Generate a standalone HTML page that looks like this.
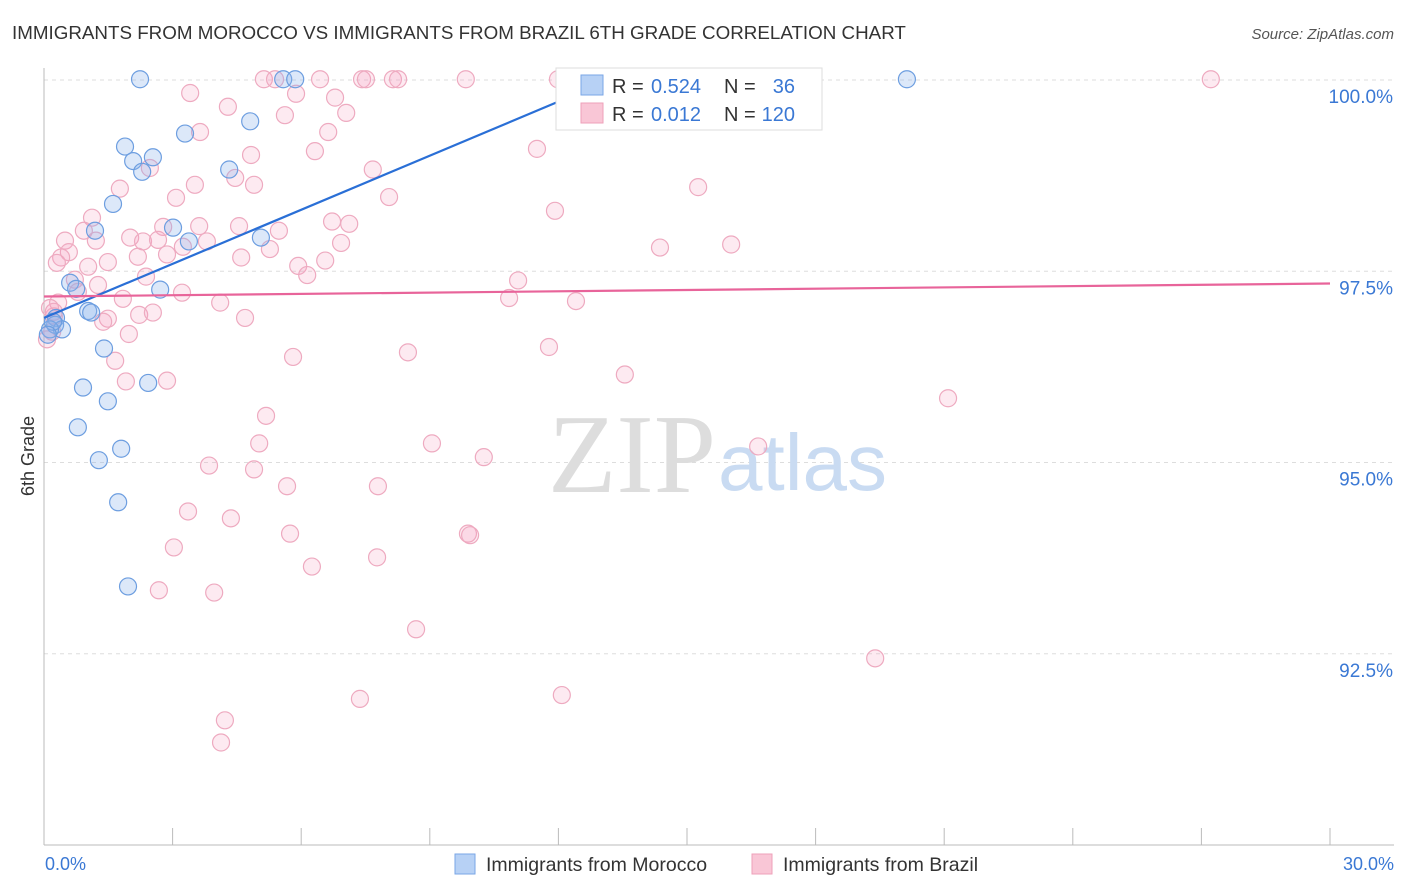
<!DOCTYPE html>
<html><head><meta charset="utf-8"><style>
body{margin:0;background:#fff;font-family:"Liberation Sans",sans-serif;}
svg{display:block}
</style></head><body>
<svg width="1406" height="892" xmlns="http://www.w3.org/2000/svg">
<text x="12" y="39" font-size="18.8" fill="#333">IMMIGRANTS FROM MOROCCO VS IMMIGRANTS FROM BRAZIL 6TH GRADE CORRELATION CHART</text>
<text x="1394" y="39" font-size="15" fill="#555" text-anchor="end" font-style="italic">Source: ZipAtlas.com</text>
<g id="grid"></g>
<text x="716" y="492" font-size="112" fill="#ddd" text-anchor="end" font-family="Liberation Serif,serif">ZIP</text>
<text x="718" y="490" font-size="80" fill="#c9dbf2">atlas</text>
<g id="pts"></g>
<g id="lines"></g>
<text transform="translate(34,456) rotate(-90)" font-size="18" fill="#333" text-anchor="middle">6th Grade</text>
<text x="45" y="870" font-size="18" fill="#3a78d4">0.0%</text>
<text x="1394" y="870" font-size="18" fill="#3a78d4" text-anchor="end">30.0%</text>
<g>
<rect x="556" y="68" width="266" height="62" fill="#fff" stroke="#ddd"/>
<rect x="581" y="75" width="22" height="20" fill="#b7d1f5" stroke="#7aa6e6"/>
<rect x="581" y="103" width="22" height="20" fill="#f9c6d6" stroke="#eea0b9"/>
<text x="612" y="93" font-size="20" fill="#333">R =</text>
<text x="651" y="93" font-size="20" fill="#3a78d4">0.524</text>
<text x="724" y="93" font-size="20" fill="#333">N =</text>
<text x="795" y="93" font-size="20" fill="#3a78d4" text-anchor="end">36</text>
<text x="612" y="121" font-size="20" fill="#333">R =</text>
<text x="651" y="121" font-size="20" fill="#3a78d4">0.012</text>
<text x="724" y="121" font-size="20" fill="#333">N =</text>
<text x="795" y="121" font-size="20" fill="#3a78d4" text-anchor="end">120</text>
</g>
<g>
<rect x="455" y="854" width="20" height="20" fill="#b7d1f5" stroke="#7aa6e6"/>
<text x="486" y="871" font-size="19.5" fill="#333">Immigrants from Morocco</text>
<rect x="752" y="854" width="20" height="20" fill="#f9c6d6" stroke="#eea0b9"/>
<text x="783" y="871" font-size="19.5" fill="#333">Immigrants from Brazil</text>
</g>
</svg>
<script>
const yTicks=[100,97.5,95,92.5];
const yTickLabels=["100.0%","97.5%","95.0%","92.5%"];
const xTicks=[0,3,6,9,12,15,18,21,24,27,30];
const moroccoX=[2.24,5.58,5.86,20.13,4.81,3.29,1.89,2.54,2.08,2.29,4.32,1.61,1.19,3.01,3.38,5.06,2.71,0.61,0.75,1.03,1.10,0.28,0.26,0.42,0.14,1.40,2.43,0.91,1.49,0.79,1.80,1.28,1.73,1.96,0.21,0.09];
const moroccoY=[100.01,100.01,100.01,100.01,99.46,99.30,99.13,98.99,98.94,98.80,98.83,98.38,98.03,98.07,97.89,97.94,97.26,97.35,97.27,96.98,96.96,96.89,96.80,96.74,96.74,96.49,96.04,95.98,95.80,95.46,95.18,95.03,94.48,93.38,96.84,96.67];
const brazilX=[5.13,5.39,6.44,7.42,7.51,8.14,8.26,9.84,11.99,27.22,3.41,5.88,6.79,4.29,5.62,7.05,6.63,3.64,11.50,4.83,6.32,2.47,7.67,4.46,4.90,3.52,1.77,15.26,8.05,3.08,6.72,7.12,11.92,1.12,4.55,5.48,3.62,2.78,0.93,2.01,2.31,2.66,1.21,3.80,6.93,3.24,16.03,14.37,0.49,0.58,0.40,0.30,4.60,5.27,2.87,1.49,2.19,1.03,5.93,6.56,6.14,2.38,11.06,0.72,1.26,0.79,3.22,1.84,10.85,12.41,4.11,0.33,0.23,2.22,2.54,1.49,4.69,1.38,0.19,0.07,1.98,1.66,5.81,8.49,11.78,2.87,1.91,13.55,21.09,5.18,9.05,5.02,16.66,10.26,3.85,4.90,7.79,5.67,3.36,4.36,5.74,9.89,9.94,3.03,7.77,6.25,2.68,3.97,8.68,19.39,7.37,12.08,4.22,4.13,0.23,0.14];
const brazilY=[100.01,100.01,100.01,100.01,100.01,100.01,100.01,100.01,100.01,100.01,99.83,99.82,99.77,99.65,99.54,99.57,99.32,99.32,99.10,99.02,99.07,98.85,98.83,98.72,98.63,98.63,98.58,98.60,98.47,98.46,98.15,98.12,98.29,98.20,98.09,98.03,98.09,98.08,98.03,97.94,97.89,97.91,97.90,97.89,97.87,97.82,97.85,97.81,97.90,97.75,97.68,97.61,97.68,97.79,97.72,97.62,97.69,97.56,97.57,97.64,97.45,97.43,97.38,97.39,97.32,97.23,97.22,97.14,97.15,97.11,97.09,97.09,96.97,96.93,96.96,96.88,96.89,96.84,96.71,96.61,96.68,96.33,96.38,96.44,96.51,96.07,96.06,96.15,95.84,95.61,95.25,95.25,95.21,95.07,94.96,94.91,94.69,94.69,94.36,94.27,94.07,94.07,94.05,93.89,93.76,93.64,93.33,93.30,92.82,92.44,91.91,91.96,91.63,91.34,96.91,97.02];
const moroccoTrend=[96.89,100.0]; const moroccoTrendX=[0,13.2];
const brazilTrend=[97.17,97.34]; const brazilTrendX=[0,30];
const NS="http://www.w3.org/2000/svg";
const X0=44,X1=1330,Y0=68,Y1=845,YMAX=100.157,YMIN=90.0;
function sx(v){return X0+(v/30)*(X1-X0);}
function sy(v){return Y0+(YMAX-v)/(YMAX-YMIN)*(Y1-Y0);}
function mk(tag,a,p){const e=document.createElementNS(NS,tag);for(const k in a)e.setAttribute(k,a[k]);p.appendChild(e);return e;}
const grid=document.getElementById('grid');
yTicks.forEach((t,i)=>{
  const l=mk('line',{x1:X0,x2:1394,y1:sy(t),y2:sy(t),stroke:'#ddd','stroke-dasharray':'4,4'},grid);
  
  
  const tx=mk('text',{x:1393,y:sy(t)+23,'font-size':19,fill:'#3a78d4','text-anchor':'end'},grid);
  tx.textContent=yTickLabels[i];
  
  
});
const ax=mk('line',{x1:X0,x2:X0,y1:Y0,y2:Y1,stroke:'#bbb'},grid);


const bx=mk('line',{x1:X0,x2:1394,y1:Y1,y2:Y1,stroke:'#bbb'},grid);


xTicks.forEach(t=>{
  const l=mk('line',{x1:sx(t),x2:sx(t),y1:828,y2:Y1,stroke:'#bbb'},grid);
  
  
});
const pts=document.getElementById('pts');
brazilX.forEach((x,i)=>{
  const c=mk('circle',{cx:sx(x),cy:sy(brazilY[i]),r:8.5,fill:'rgba(244,160,190,0.22)',stroke:'#eeaac0','stroke-width':1.2},pts);
  
  
});
moroccoX.forEach((x,i)=>{
  const c=mk('circle',{cx:sx(x),cy:sy(moroccoY[i]),r:8.5,fill:'rgba(140,180,235,0.3)',stroke:'#6d9ee0','stroke-width':1.2},pts);
  
  
});
const lines=document.getElementById('lines');
const bl=mk('line',{x1:sx(moroccoTrendX[0]),y1:sy(moroccoTrend[0]),x2:sx(moroccoTrendX[1]),y2:sy(moroccoTrend[1]),stroke:'#2a6fd6','stroke-width':2.2},lines);


const pl=mk('line',{x1:sx(brazilTrendX[0]),y1:sy(brazilTrend[0]),x2:sx(brazilTrendX[1]),y2:sy(brazilTrend[1]),stroke:'#e8649a','stroke-width':2.2},lines);


</script>
</body></html>
